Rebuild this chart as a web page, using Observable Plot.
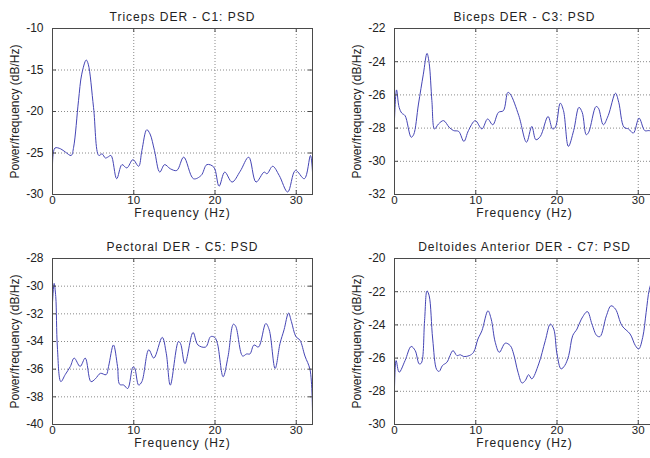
<!DOCTYPE html>
<html>
<head>
<meta charset="utf-8">
<script src="https://cdn.jsdelivr.net/npm/d3@7"></script>
<script src="https://cdn.jsdelivr.net/npm/@observablehq/plot@0.6"></script>
<style>
  html, body { margin: 0; padding: 0; background: #fff; }
  #fig { position: relative; width: 650px; height: 458px; overflow: hidden; background: #fff; }
  #fig > div { position: absolute; }
  #fig svg { display: block; max-width: none !important; }
</style>
</head>
<body>
<div id="fig"></div>
<script>
// ---------- data ----------
const titles = [
  "Triceps DER - C1: PSD",
  "Biceps DER - C3: PSD",
  "Pectoral DER - C5: PSD",
  "Deltoides Anterior DER - C7: PSD"
];
const xLabel = "Frequency (Hz)";
const yLabel = "Power/frequency (dB/Hz)";
const xTicks = [0, 10, 20, 30];

const tricepsFreq = [0, 0.3, 1.0, 1.6, 2.3, 2.6, 3.2, 3.6, 4.15, 4.4, 5.05, 5.7, 6.1, 6.5, 6.8, 7.2, 7.9, 8.55, 9.15, 9.9, 10.6, 11.0, 11.6, 12.0, 12.55, 13.2, 13.8, 14.5, 15.3, 16.15, 17.35, 18.3, 19.0, 19.85, 20.5, 21.2, 22.1, 23.1, 24.15, 25.05, 26.05, 26.4, 27.1, 27.9, 28.95, 29.9, 31.0, 31.75, 32];
const tricepsPSD = [-26.4, -24.4, -24.5, -24.9, -25.3, -24.3, -18.7, -15.5, -13.8, -14.3, -19.5, -25.3, -25.1, -25.6, -25.5, -25.3, -28.1, -26.4, -26.8, -25.8, -26.6, -24.7, -22.2, -22.7, -24.7, -27.3, -26.4, -26.9, -27.1, -25.5, -28.1, -27.7, -26.4, -26.7, -29.0, -27.3, -28.5, -27.2, -25.5, -28.5, -27.3, -27.5, -26.6, -27.7, -29.7, -27.1, -28.1, -25.3, -27.3];
const tricepsTicks = [-30, -25, -20, -15, -10];

const bicepsFreq = [0, 0.25, 0.57, 0.9, 1.3, 2.05, 2.35, 2.95, 3.55, 4.0, 4.27, 4.6, 4.93, 5.42, 6.04, 6.73, 7.27, 7.9, 8.54, 9.1, 9.94, 10.76, 11.46, 12.1, 12.8, 13.4, 13.95, 14.25, 15.3, 16.25, 16.9, 17.4, 17.95, 18.9, 19.45, 19.8, 20.4, 20.8, 21.4, 22.05, 22.7, 23.1, 23.6, 23.9, 24.8, 25.1, 25.7, 26.3, 27.2, 27.6, 28.25, 28.8, 29.4, 30.1, 30.8, 31.3, 32];
const bicepsPSD = [-27.45, -25.7, -26.75, -27.1, -27.25, -28.55, -28.4, -26.55, -24.75, -23.5, -24.1, -26.35, -28.05, -27.75, -27.55, -27.95, -28.15, -28.2, -28.8, -28.15, -27.55, -28.05, -27.45, -27.8, -27.05, -26.95, -25.85, -25.95, -27.25, -28.85, -27.9, -28.7, -28.5, -27.3, -28.05, -27.95, -26.5, -26.95, -29.1, -28.15, -26.75, -27.05, -28.4, -28.25, -26.7, -26.8, -27.8, -27.25, -25.9, -26.45, -27.95, -28.05, -28.3, -27.4, -28.15, -28.15, -28.2];
const bicepsTicks = [-32, -30, -28, -26, -24, -22];

const pectoralFreq = [0, 0.2, 0.4, 0.6, 1.03, 1.56, 2.2, 2.67, 3.4, 4.03, 4.73, 5.27, 5.9, 6.6, 6.9, 7.5, 8.0, 8.27, 8.77, 9.26, 9.9, 10.1, 10.6, 11.0, 11.85, 12.47, 13.5, 14.0, 14.5, 15.5, 15.76, 16.3, 17.3, 17.9, 18.85, 19.46, 19.96, 20.3, 21.0, 21.6, 22.26, 22.55, 23.4, 23.9, 24.3, 24.8, 25.35, 26.25, 26.67, 27.4, 28.0, 28.5, 29.05, 29.4, 29.96, 30.45, 31.07, 31.7, 32];
const pectoralPSD = [-31.2, -29.8, -30.75, -34.4, -36.9, -36.4, -35.8, -35.2, -35.8, -35.2, -36.9, -36.7, -36.3, -36.4, -35.8, -34.25, -35.8, -37.1, -37.15, -37.4, -35.85, -35.9, -37.15, -36.9, -34.6, -35.2, -33.7, -34.85, -37.15, -34.0, -34.15, -35.6, -33.35, -34.25, -34.4, -33.65, -33.7, -34.15, -36.55, -35.1, -32.75, -32.9, -35.05, -34.9, -34.9, -34.25, -34.4, -32.7, -33.15, -35.95, -34.15, -33.15, -31.95, -32.55, -33.65, -33.9, -35.05, -36.05, -39.2];
const pectoralTicks = [-40, -38, -36, -34, -32, -30, -28];

const deltoidFreq = [0, 0.2, 0.57, 1.3, 2.05, 2.55, 3.04, 3.3, 3.7, 4.0, 4.27, 4.7, 5.2, 5.5, 5.9, 6.45, 7.2, 7.68, 8.1, 8.5, 9.2, 9.73, 10.27, 10.76, 11.5, 11.9, 12.4, 12.9, 13.63, 14.25, 14.66, 15.2, 15.7, 16.1, 16.5, 16.9, 17.75, 18.56, 19.18, 19.6, 20.0, 20.5, 20.95, 21.44, 21.93, 22.46, 23.0, 23.74, 24.3, 24.9, 25.3, 26.08, 26.65, 27.2, 28.0, 29.0, 29.65, 30.06, 30.55, 30.97, 31.37, 32];
const deltoidPSD = [-27.85, -26.15, -26.85, -26.15, -25.3, -25.55, -26.35, -26.3, -23.75, -21.95, -22.25, -24.85, -26.7, -26.8, -26.45, -26.25, -25.55, -25.85, -25.8, -25.9, -25.85, -25.65, -24.85, -24.35, -23.15, -23.65, -25.05, -25.65, -25.1, -25.25, -25.75, -26.85, -27.5, -27.35, -27.0, -27.25, -26.35, -24.95, -23.95, -24.25, -25.75, -26.65, -26.45, -25.85, -24.65, -24.25, -23.65, -23.2, -23.95, -24.65, -24.7, -23.45, -22.85, -23.05, -24.05, -24.55, -25.25, -25.45, -24.75, -23.25, -21.85, -20.9];
const deltoidTicks = [-30, -28, -26, -24, -22, -20];

// ---------- drawing ----------
const FONT = "'Liberation Sans', Arial, Helvetica, sans-serif";
const LINE = "#4545b5";
const FRAME = "#4a4a4a";
const GRID = "#8a8a8a";

function panel(cfg) {
  const {freq, psd, yTicks, title, left, top, width, height, ml, mr, mt, mb} = cfg;
  const data = freq.map((f, i) => ({f, v: psd[i]}));
  const pw = width - ml - mr, ph = height - mt - mb;
  const yDom = [yTicks[0], yTicks[yTicks.length - 1]];
  const yInner = yTicks.slice(1, -1);
  const fmt = d => String(d);
  const svg = Plot.plot({
    width, height,
    marginLeft: ml, marginRight: mr, marginTop: mt, marginBottom: mb,
    style: {fontFamily: FONT, fontSize: "12px", color: "#222", background: "#fff", overflow: "visible", maxWidth: "none"},
    x: {domain: [0, 32], label: null},
    y: {domain: yDom, label: null},
    marks: [
      Plot.gridX(xTicks.slice(1), {stroke: GRID, strokeOpacity: 1, strokeDasharray: "1,2"}),
      Plot.gridY(yInner, {stroke: GRID, strokeOpacity: 1, strokeDasharray: "1,2"}),
      Plot.line(data, {x: "f", y: "v", stroke: LINE, strokeWidth: 1, curve: "catmull-rom", clip: true}),
      Plot.frame({stroke: FRAME, strokeWidth: 1}),
      // inward tick marks (bottom/top/left/right)
      Plot.tickX(xTicks, {x: d => d, stroke: FRAME, insetTop: ph - 4}),
      Plot.tickX(xTicks, {x: d => d, stroke: FRAME, insetBottom: ph - 4}),
      Plot.tickY(yTicks, {y: d => d, stroke: FRAME, insetRight: pw - 4}),
      Plot.tickY(yTicks, {y: d => d, stroke: FRAME, insetLeft: pw - 4}),
      // tick labels
      Plot.axisX(xTicks, {anchor: "bottom", tickSize: 0, tickPadding: 1, tickFormat: fmt, label: null, fontSize: 11.5}),
      Plot.axisY(yTicks, {anchor: "left", tickSize: 0, tickPadding: 9, tickFormat: fmt, label: null, fontSize: 12}),
      // title and axis labels
      Plot.text([title], {text: d => d, frameAnchor: "top", textAnchor: "middle", lineAnchor: "bottom", dy: -8, fontSize: 12, fill: "#222"}),
      Plot.text([xLabel], {text: d => d, frameAnchor: "bottom", textAnchor: "middle", lineAnchor: "top", dy: 14, fontSize: 12, fill: "#222"}),
      Plot.text([yLabel], {text: d => d, frameAnchor: "left", textAnchor: "middle", rotate: -90, lineAnchor: "middle", dx: -37, fontSize: 12, fill: "#222"})
    ]
  });
  // the reference's horizontal labels are drawn wide
  svg.querySelectorAll("text").forEach(t => {
    const s = t.textContent;
    if (s === title || s === xLabel) t.style.letterSpacing = "1px";
  });
  const wrap = document.createElement("div");
  wrap.style.left = left + "px";
  wrap.style.top = top + "px";
  wrap.style.width = width + "px";
  wrap.style.height = height + "px";
  wrap.appendChild(svg);
  document.getElementById("fig").appendChild(wrap);
}

panel({freq: tricepsFreq, psd: tricepsPSD, yTicks: tricepsTicks, title: titles[0],
  left: 0, top: 0, width: 325, height: 229, ml: 52, mr: 13, mt: 28, mb: 35});
panel({freq: bicepsFreq, psd: bicepsPSD, yTicks: bicepsTicks, title: titles[1],
  left: 325, top: 0, width: 342, height: 229, ml: 69, mr: 13, mt: 28, mb: 35});
panel({freq: pectoralFreq, psd: pectoralPSD, yTicks: pectoralTicks, title: titles[2],
  left: 0, top: 229, width: 325, height: 229, ml: 52, mr: 13, mt: 29, mb: 34});
panel({freq: deltoidFreq, psd: deltoidPSD, yTicks: deltoidTicks, title: titles[3],
  left: 325, top: 229, width: 342, height: 229, ml: 69, mr: 13, mt: 29, mb: 34});
</script>
</body>
</html>
